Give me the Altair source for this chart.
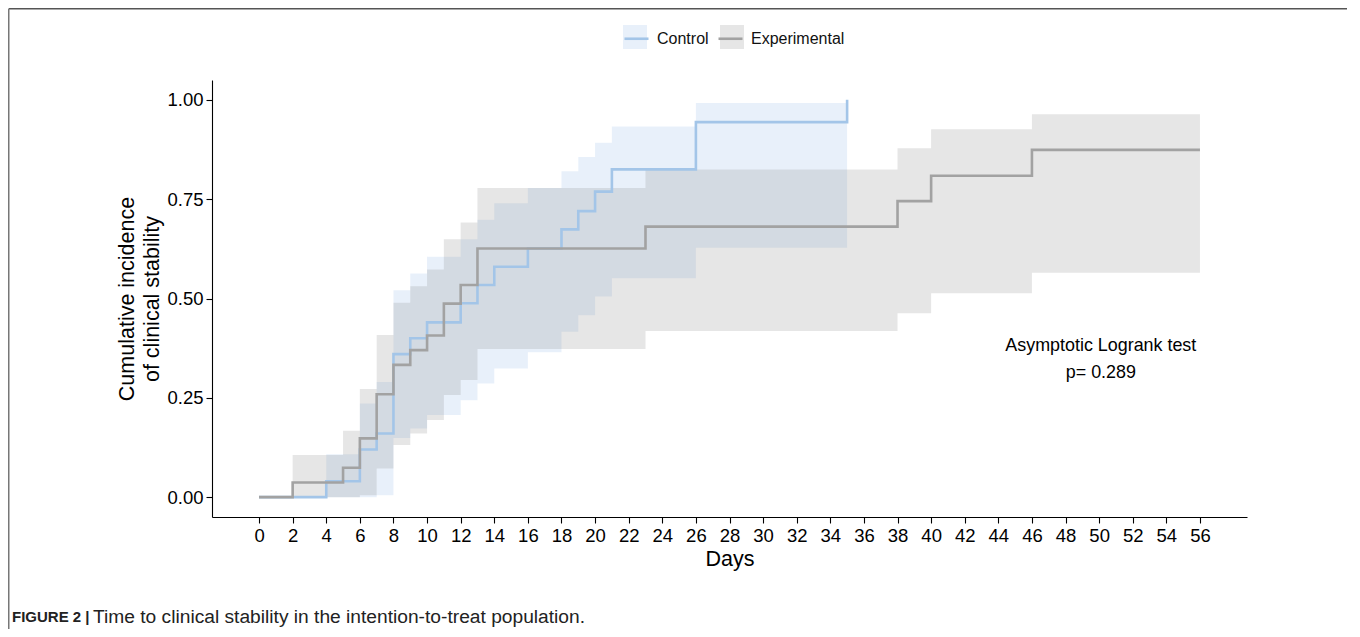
import altair as alt
import pandas as pd

groups = ["Control", "Experimental"]

# Kaplan-Meier cumulative incidence (step points)
ctrl_time = [0, 4, 6, 7, 8, 9, 10, 12, 13, 14, 16, 18, 19, 20, 21, 26, 35]
ctrl_est = [0, 0.04, 0.12, 0.16, 0.36, 0.40, 0.44, 0.488, 0.534, 0.58, 0.626, 0.674, 0.72, 0.769, 0.825, 0.944, 1.0]

exp_time = [0, 2, 5, 6, 7, 8, 9, 10, 11, 12, 13, 23, 38, 40, 46, 56]
exp_est = [0, 0.037, 0.074, 0.148, 0.259, 0.333, 0.370, 0.407, 0.487, 0.534, 0.626, 0.681, 0.745, 0.809, 0.874, 0.874]

# Confidence bands
ctrl_band_time = [4, 6, 7, 8, 9, 10, 12, 13, 14, 16, 18, 19, 20, 21, 26, 35]
ctrl_lower = [0.0, 0.0, 0.005, 0.149, 0.173, 0.207, 0.244, 0.286, 0.324, 0.365, 0.416, 0.458, 0.505, 0.551, 0.628, 0.628]
ctrl_upper = [0.108, 0.236, 0.29, 0.521, 0.563, 0.605, 0.649, 0.698, 0.74, 0.778, 0.82, 0.856, 0.892, 0.933, 0.992, 0.992]

exp_band_time = [2, 5, 6, 7, 8, 9, 10, 11, 12, 13, 23, 38, 40, 46, 56]
exp_lower = [0.0, 0.0, 0.005, 0.072, 0.131, 0.160, 0.194, 0.257, 0.295, 0.373, 0.418, 0.463, 0.513, 0.565, 0.565]
exp_upper = [0.106, 0.167, 0.272, 0.408, 0.489, 0.531, 0.573, 0.649, 0.691, 0.778, 0.825, 0.878, 0.926, 0.964, 0.964]

x_ticks = list(range(0, 57, 2))
y_ticks = [0, 0.25, 0.5, 0.75, 1.0]

annot_x = [50.1, 50.1]
annot_y = [0.38, 0.312]
annot_text = ["Asymptotic Logrank test", "p= 0.289"]

caption_bold = "FIGURE 2 |"
caption_text = "Time to clinical stability in the intention-to-treat population."

line_df = pd.concat([
    pd.DataFrame({"time": ctrl_time, "est": ctrl_est, "strata": groups[0]}),
    pd.DataFrame({"time": exp_time, "est": exp_est, "strata": groups[1]}),
])
band_df = pd.concat([
    pd.DataFrame({"time": ctrl_band_time, "lower": ctrl_lower, "upper": ctrl_upper, "grp": groups[0]}),
    pd.DataFrame({"time": exp_band_time, "lower": exp_lower, "upper": exp_upper, "grp": groups[1]}),
])
annot_df = pd.DataFrame({"x": annot_x, "y": annot_y, "text": annot_text})
dummy = pd.DataFrame({"a": [0]})

W, H = 1035, 437
PL, PT = 204, 72

FONT = "Liberation Sans"
x_scale = alt.Scale(domain=[-2.8, 58.8], nice=False, zero=False)
y_scale = alt.Scale(domain=[-0.05, 1.05], nice=False, zero=False)

x_axis = alt.Axis(values=x_ticks, title="Days", labelFontSize=18.5, titleFontSize=21.5,
                  tickSize=6, tickWidth=1.1, domainWidth=1.1, domainColor="black",
                  tickColor="black", labelColor="black", titleColor="black", grid=False,
                  labelPadding=3, titlePadding=4, labelFlush=False, labelFont=FONT, titleFont=FONT,
                  titleFontWeight="normal")
y_axis = alt.Axis(values=y_ticks, format=".2f", title=["Cumulative incidence", "of clinical stability"],
                  labelFontSize=18.5, titleFontSize=21.5, tickSize=6, tickWidth=1.1, domainWidth=1.1,
                  domainColor="black", tickColor="black", labelColor="black", titleColor="black",
                  grid=False, labelPadding=3, titlePadding=3, labelFlush=False, labelFont=FONT,
                  titleFont=FONT, titleFontWeight="normal", titleLineHeight=25)

leg_common = dict(orient="none", legendX=411, legendY=-55, direction="horizontal", title=None,
                  symbolSize=576, labelFontSize=16, labelFont=FONT, labelColor="#111", padding=0)

bands = alt.Chart(band_df).mark_area(interpolate="step-after").encode(
    x=alt.X("time:Q", scale=x_scale, axis=x_axis),
    y=alt.Y("lower:Q", scale=y_scale, axis=y_axis, stack=None),
    y2="upper:Q",
    fill=alt.Fill("grp:N", scale=alt.Scale(range=["rgba(140,180,230,0.2)", "rgba(128,128,128,0.2)"]),
                  legend=alt.Legend(symbolType="square", symbolStrokeWidth=0, labelOpacity=0,
                                    labelOffset=9, columnPadding=12, **leg_common)),
)

lines = alt.Chart(line_df).mark_line(interpolate="step-after", strokeWidth=2.6).encode(
    x=alt.X("time:Q", scale=x_scale, axis=x_axis),
    y=alt.Y("est:Q", scale=y_scale, axis=y_axis),
    stroke=alt.Stroke("strata:N", scale=alt.Scale(range=["#a3c5e8", "#a2a2a2"]),
                      legend=alt.Legend(symbolType="stroke", symbolStrokeWidth=2.6,
                                        labelOffset=7, columnPadding=4, **leg_common)),
)

annot = alt.Chart(annot_df).mark_text(align="center", baseline="middle", fontSize=17.9,
                                      font=FONT, color="black").encode(
    x=alt.X("x:Q", scale=x_scale, axis=x_axis),
    y=alt.Y("y:Q", scale=y_scale, axis=y_axis),
    text="text:N",
)

frame_top = alt.Chart(dummy).mark_rule(color="#555", strokeWidth=1.5).encode(
    x=alt.value(-PL + 0.75), x2=alt.value(W + 140), y=alt.value(-PT + 0.75))
frame_left = alt.Chart(dummy).mark_rule(color="#777", strokeWidth=1.5).encode(
    x=alt.value(-PL + 0.75), y=alt.value(-PT + 0.75), y2=alt.value(H + 140))

cap1 = alt.Chart(dummy).mark_text(align="left", baseline="middle", fontSize=15,
                                  font=FONT, fontWeight="bold", color="#222",
                                  text=caption_bold).encode(x=alt.value(-200), y=alt.value(537))
cap2 = alt.Chart(dummy).mark_text(align="left", baseline="middle", fontSize=19.2,
                                  font=FONT, color="#222",
                                  text=caption_text).encode(x=alt.value(-119), y=alt.value(537))

chart = alt.layer(bands, lines, annot, frame_top, frame_left, cap1, cap2).resolve_scale(
    fill="independent", stroke="independent"
).properties(
    width=W, height=H,
    autosize=alt.AutoSizeParams(type="none"),
    padding={"left": PL, "top": PT, "right": 100, "bottom": 112},
).configure(font=FONT).configure_view(stroke=None)

chart.save("out.html", embed_options={"renderer": "svg", "actions": False})
